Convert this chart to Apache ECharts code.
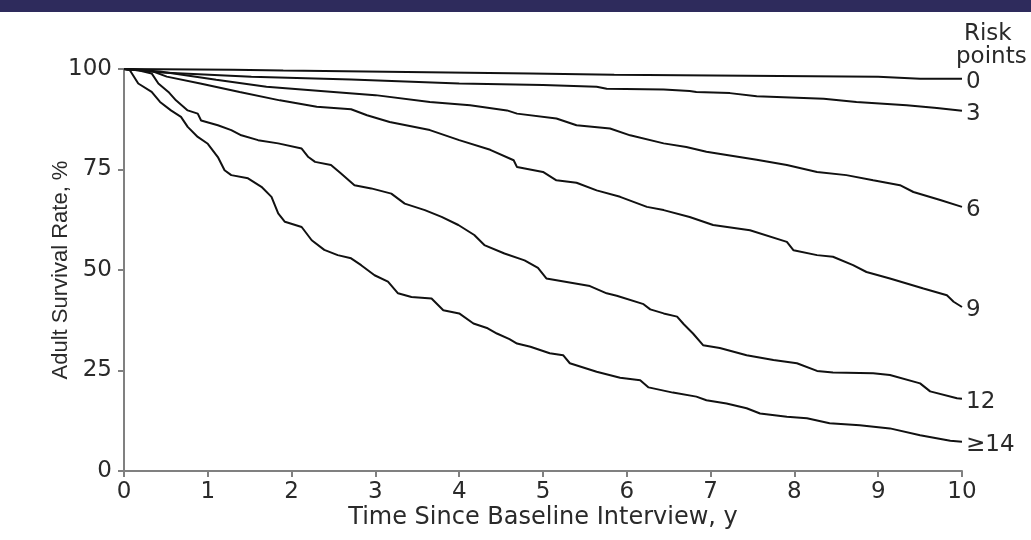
<!DOCTYPE html>
<html>
<head>
<meta charset="utf-8">
<script src="https://cdn.jsdelivr.net/npm/echarts@6/dist/echarts.min.js"></script>
<style>
  html, body { margin: 0; padding: 0; background: #fff; }
  #chart { width: 1031px; height: 540px; }
</style>
</head>
<body>
<div id="chart"></div>
<script>
  // risk point groups (label shown at the end of each curve)
  const riskLabels = ['0', '3', '6', '9', '12', '≥14'];

  // Kaplan-Meier curves: time (y) and survival (%)
  const time0 = [0, 1.3, 1.9, 4.85, 5.85, 9.0, 9.5, 10];
  const surv0 = [100, 99.8, 99.6, 98.9, 98.6, 98.1, 97.6, 97.6];

  const time3 = [0, 0.45, 1.52, 2.71, 4.0, 5.0, 5.64, 5.76, 6.44, 6.75, 6.83, 7.23, 7.55, 8.35, 8.74, 9.34, 9.7, 10];
  const surv3 = [100, 99.1, 98.1, 97.4, 96.4, 96.0, 95.6, 95.1, 94.9, 94.5, 94.3, 94.0, 93.2, 92.6, 91.8, 91.0, 90.3, 89.6];

  const time6 = [0, 0.43, 1.1, 1.7, 2.5, 3.0, 3.65, 4.13, 4.57, 4.69, 5.16, 5.4, 5.8, 6.04, 6.44, 6.71, 6.95, 7.23, 7.55, 7.91,
    8.27, 8.62, 8.94, 9.26, 9.42, 9.74, 10];
  const surv6 = [100, 99.4, 97.3, 95.6, 94.3, 93.5, 91.8, 91.0, 89.7, 88.9, 87.7, 86.0, 85.2, 83.5, 81.5, 80.6, 79.4, 78.5, 77.4, 76.1,
    74.4, 73.6, 72.3, 71.1, 69.4, 67.4, 65.7];

  const time9 = [0, 0.31, 0.51, 0.91, 1.38, 1.86, 2.3, 2.71, 2.9, 3.17, 3.65, 4.0, 4.37, 4.65, 4.69, 5.0, 5.16, 5.4, 5.64, 5.92,
    6.24, 6.44, 6.75, 7.03, 7.47, 7.91, 7.99, 8.27, 8.46, 8.7, 8.86, 9.14, 9.54, 9.82, 9.9, 10];
  const surv9 = [100, 99.7, 98.1, 96.4, 94.3, 92.2, 90.6, 90.0, 88.5, 86.8, 84.8, 82.3, 79.9, 77.3, 75.6, 74.4, 72.3, 71.7, 69.8, 68.2,
    65.7, 64.9, 63.2, 61.2, 59.9, 57.0, 54.9, 53.7, 53.3, 51.2, 49.5, 47.9, 45.4, 43.7, 42.1, 40.8];

  const time12 = [0, 0.17, 0.33, 0.41, 0.53, 0.62, 0.76, 0.88, 0.92, 1.12, 1.28, 1.4, 1.6, 1.84, 2.12, 2.2, 2.28, 2.47, 2.59, 2.75,
    2.95, 3.19, 3.35, 3.59, 3.79, 3.99, 4.18, 4.3, 4.54, 4.78, 4.94, 5.04, 5.56, 5.76, 5.88, 6.2, 6.28, 6.44, 6.6, 6.68,
    6.79, 6.91, 7.11, 7.43, 7.75, 8.03, 8.27, 8.46, 8.94, 9.14, 9.5, 9.62, 9.94, 10];
  const surv12 = [100, 99.7, 98.9, 96.4, 94.3, 92.2, 89.7, 88.9, 87.2, 86.0, 84.8, 83.5, 82.3, 81.5, 80.2, 78.1, 76.9, 76.1, 74.0, 71.1,
    70.3, 69.0, 66.5, 64.9, 63.2, 61.2, 58.7, 56.2, 54.1, 52.4, 50.5, 47.9, 46.0, 44.2, 43.6, 41.5, 40.2, 39.2, 38.4, 36.5,
    34.2, 31.3, 30.6, 28.8, 27.6, 26.8, 24.9, 24.5, 24.3, 23.9, 21.8, 19.8, 18.1, 18.0];

  const time14 = [0, 0.07, 0.17, 0.33, 0.43, 0.56, 0.68, 0.76, 0.88, 1.0, 1.12, 1.2, 1.28, 1.48, 1.64, 1.76, 1.84, 1.92, 2.12, 2.24,
    2.39, 2.55, 2.71, 2.83, 2.99, 3.15, 3.27, 3.43, 3.67, 3.81, 4.0, 4.17, 4.34, 4.45, 4.6, 4.69, 4.85, 5.08, 5.24, 5.32,
    5.64, 5.92, 6.16, 6.26, 6.55, 6.83, 6.95, 7.19, 7.43, 7.59, 7.91, 8.15, 8.42, 8.78, 9.14, 9.5, 9.86, 10];
  const surv14 = [100, 99.7, 96.4, 94.3, 91.8, 89.7, 88.1, 85.6, 83.1, 81.4, 78.1, 74.8, 73.6, 72.8, 70.7, 68.2, 64.1, 62.0, 60.7, 57.4,
    55.0, 53.7, 52.9, 51.2, 48.7, 47.1, 44.2, 43.3, 42.9, 40.0, 39.2, 36.7, 35.5, 34.2, 32.8, 31.7, 30.9, 29.3, 28.8, 26.8,
    24.7, 23.2, 22.6, 20.8, 19.5, 18.5, 17.6, 16.8, 15.6, 14.3, 13.5, 13.1, 11.9, 11.4, 10.6, 8.9, 7.5, 7.3];

  const curves = [
    [time0, surv0],
    [time3, surv3],
    [time6, surv6],
    [time9, surv9],
    [time12, surv12],
    [time14, surv14],
  ];

  const axisColor = '#808080';
  const textColor = '#2a2a2a';
  const textFont = '"DejaVu Sans", sans-serif';

  const series = curves.map((c, i) => ({
    name: riskLabels[i],
    type: 'line',
    symbol: 'none',
    silent: true,
    data: c[0].map((t, j) => [t, c[1][j]]),
    lineStyle: { color: '#111', width: 2 },
    endLabel: {
      show: true,
      formatter: riskLabels[i],
      distance: 4,
      offset: [0, 3],
      color: textColor,
      fontFamily: textFont,
      fontSize: 23,
    },
  }));

  const chart = echarts.init(document.getElementById('chart'));
  chart.setOption({
    animation: false,
    backgroundColor: '#fff',
    grid: { left: 124, right: 69, top: 69, bottom: 69, outerBoundsMode: 'none' },
    xAxis: {
      type: 'value',
      min: 0,
      max: 10,
      interval: 1,
      name: 'Time Since Baseline Interview, y',
      nameLocation: 'middle',
      nameGap: 35,
      nameMoveOverlap: false,
      nameTextStyle: { color: textColor, fontFamily: textFont, fontSize: 24 },
      axisLine: { onZero: false, lineStyle: { color: axisColor, width: 2 } },
      axisTick: { show: true, length: 6, lineStyle: { color: axisColor, width: 2 } },
      axisLabel: { color: textColor, fontFamily: textFont, fontSize: 23, margin: 10 },
      splitLine: { show: false },
    },
    yAxis: {
      type: 'value',
      min: 0,
      max: 100,
      interval: 25,
      name: 'Adult Survival Rate, %',
      nameLocation: 'middle',
      nameGap: 52,
      nameMoveOverlap: false,
      nameTextStyle: { color: textColor, fontFamily: '"Liberation Sans", sans-serif', fontSize: 22 },
      axisLine: { show: true, lineStyle: { color: axisColor, width: 2 } },
      axisTick: { show: true, length: 6, lineStyle: { color: axisColor, width: 2 } },
      axisLabel: { color: textColor, fontFamily: textFont, fontSize: 23, margin: 12 },
      splitLine: { show: false },
    },
    graphic: [
      {
        type: 'rect',
        left: 0,
        top: 0,
        shape: { width: 1031, height: 12 },
        style: { fill: '#2e2b5c' },
      },
      {
        type: 'text',
        left: 964,
        top: 23,
        style: { text: 'Risk', fill: textColor, font: '23px "DejaVu Sans"' },
      },
      {
        type: 'text',
        left: 956,
        top: 46,
        style: { text: 'points', fill: textColor, font: '23px "DejaVu Sans"' },
      },
    ],
    series: series,
  });
</script>
</body>
</html>
